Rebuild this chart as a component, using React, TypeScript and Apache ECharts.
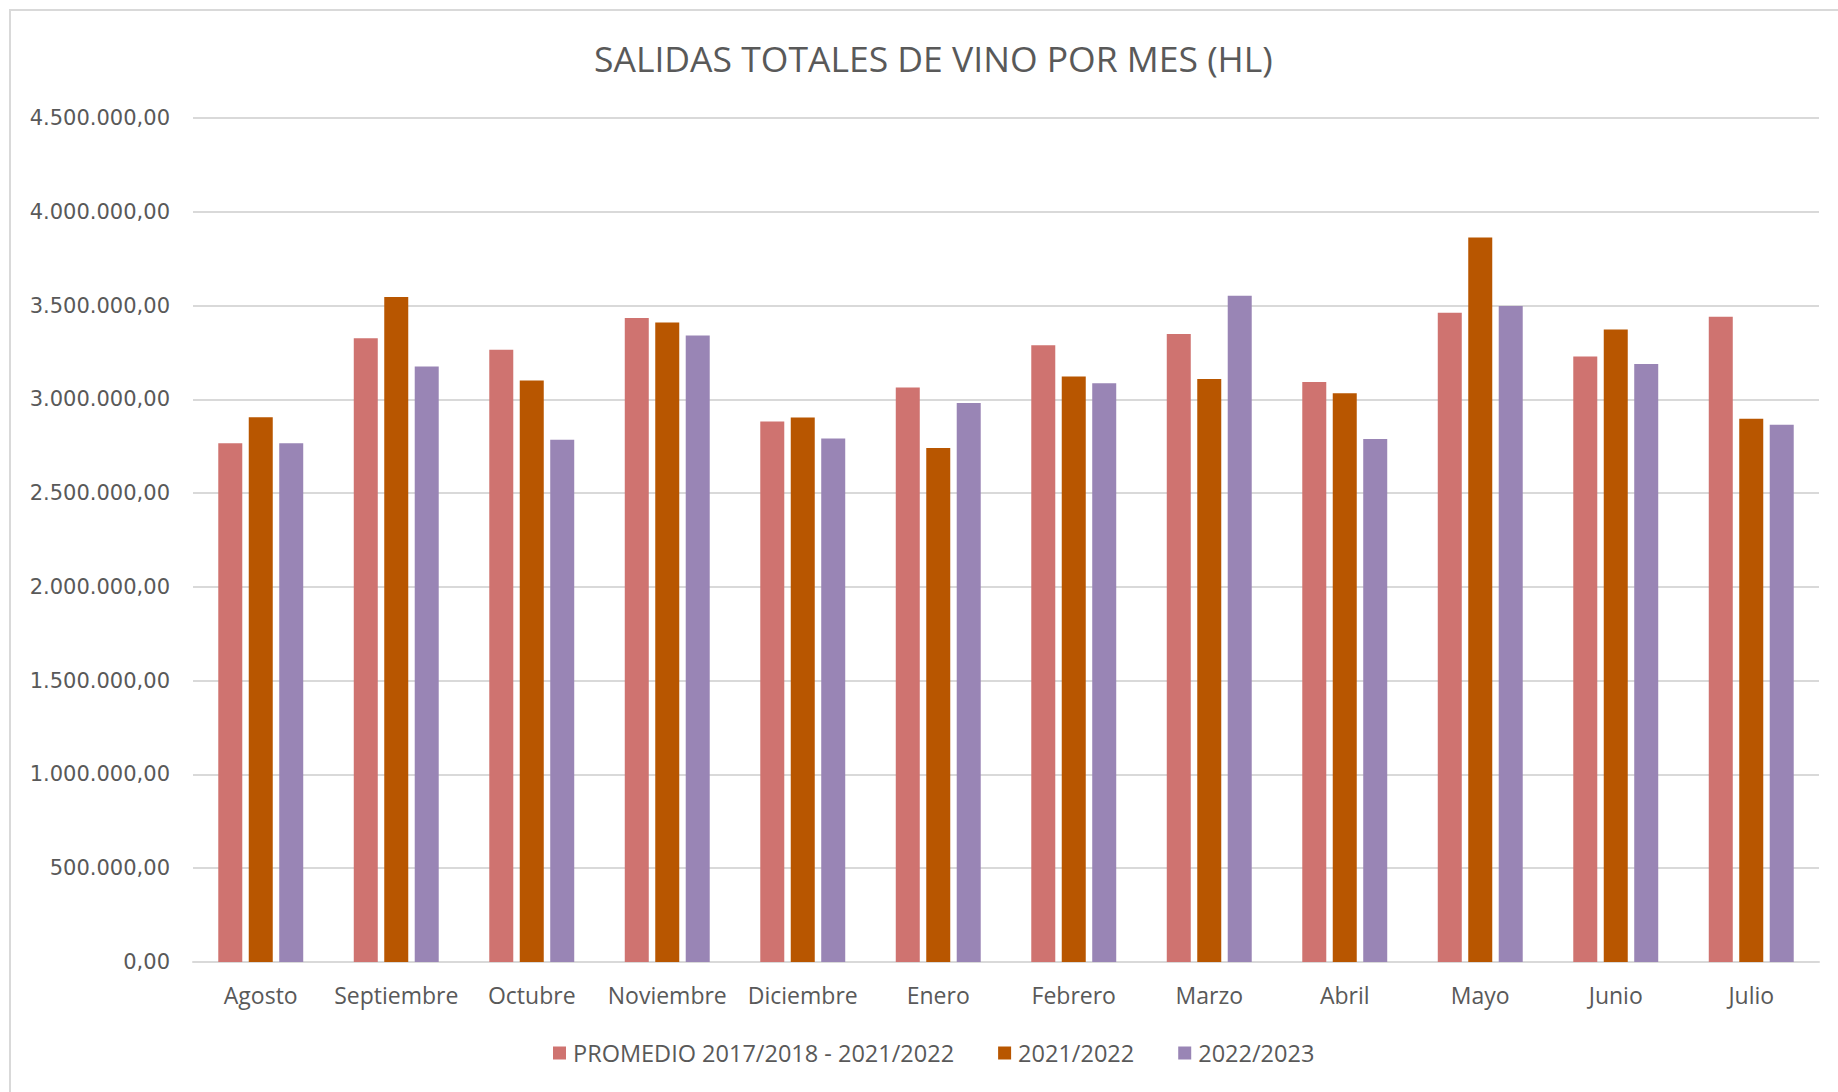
import React, { useEffect, useRef } from "react";
import * as echarts from "echarts";

const months = ["Agosto", "Septiembre", "Octubre", "Noviembre", "Diciembre", "Enero", "Febrero", "Marzo", "Abril", "Mayo", "Junio", "Julio"];
const seriesNames = ["PROMEDIO 2017/2018 - 2021/2022", "2021/2022", "2022/2023"];
const promedio = [2766000, 3326000, 3264000, 3433000, 2882000, 3063000, 3289000, 3349000, 3092000, 3461000, 3228000, 3440000];
const y2122 = [2905000, 3545000, 3100000, 3410000, 2903000, 2740000, 3122000, 3108000, 3033000, 3863000, 3372000, 2896000];
const y2223 = [2766000, 3175000, 2784000, 3340000, 2791000, 2980000, 3086000, 3552000, 2789000, 3498000, 3189000, 2864000];
const colors = ["#CF7370", "#B85600", "#9985B5"];

function fmt(v: number): string {
  const s = Math.round(v).toString().replace(/\B(?=(\d{3})+(?!\d))/g, ".");
  return s + ",00";
}

export default function App() {
  const ref = useRef<HTMLDivElement>(null);
  useEffect(() => {
    document.body.style.margin = "0";
    document.body.style.overflow = "hidden";
    const chart = echarts.init(ref.current!, null, { renderer: "svg" });
    const data = [promedio, y2122, y2223];
    chart.setOption({
      animation: false,
      backgroundColor: "#ffffff",
      title: {
        text: "SALIDAS TOTALES DE VINO POR MES (HL)",
        left: 589,
        top: 35,
        textStyle: { fontFamily: "Open Sans", fontSize: 35.5, fontWeight: "normal", color: "#595959" },
      },
      graphic: [
        {
          type: "rect",
          shape: { x: 10, y: 10, width: 1860, height: 1120 },
          style: { fill: "none", stroke: "#d9d9d9", lineWidth: 2 },
          silent: true,
        },
      ],
      legend: {
        bottom: 22,
        left: 548,
        itemWidth: 13,
        itemHeight: 13,
        itemGap: 44,
        icon: "rect",
        textStyle: { fontFamily: "Open Sans", fontSize: 23.5, color: "#595959", padding: [0, 0, 0, 2] },
        data: seriesNames,
      },
      grid: { left: 193, right: 19, top: 118, bottom: 130, containLabel: false },
      xAxis: {
        type: "category",
        data: months,
        axisLine: { lineStyle: { color: "#d9d9d9", width: 2 } },
        axisTick: { show: false },
        axisLabel: { fontFamily: "Open Sans", fontSize: 23, color: "#595959", margin: 21, interval: 0 },
      },
      yAxis: {
        type: "value",
        min: 0,
        max: 4500000,
        interval: 500000,
        axisLine: { show: false },
        axisTick: { show: false },
        splitLine: { lineStyle: { color: "#d9d9d9", width: 2 } },
        axisLabel: { fontFamily: "DejaVu Sans", fontSize: 21, color: "#595959", margin: 23, formatter: (v: number) => fmt(v) },
      },
      series: seriesNames.map((n, i) => ({
        name: n,
        type: "bar",
        data: data[i],
        barWidth: 24,
        barGap: "27%",
        itemStyle: { color: colors[i] },
      })),
    });
    return () => chart.dispose();
  }, []);
  return <div ref={ref} style={{ width: 1838, height: 1092 }} />;
}
